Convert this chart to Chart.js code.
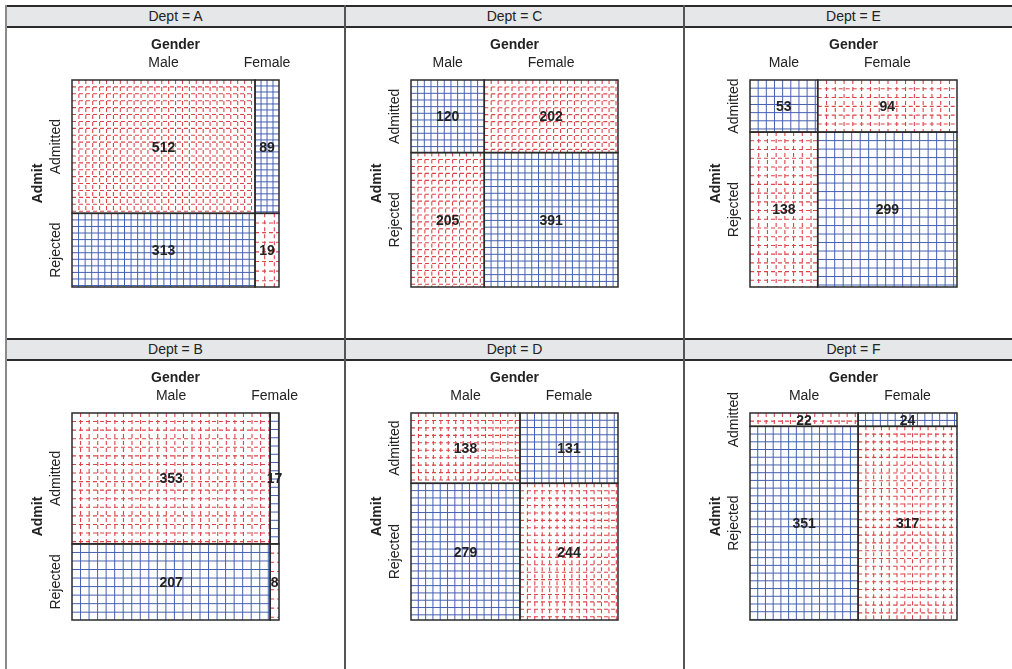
<!DOCTYPE html>
<html><head><meta charset="utf-8">
<script src="https://cdn.jsdelivr.net/npm/chart.js@4.4.0/dist/chart.umd.min.js"></script>
<style>
html,body{margin:0;padding:0;background:#fff;overflow:hidden;width:1012px;height:669px;}
#wrap{position:relative;width:1012px;height:669px;overflow:hidden;font-family:"Liberation Sans",Arial,sans-serif;}
.strip{position:absolute;height:19px;background:#e6e7e9;border-top:2px solid #2b2b2b;border-bottom:2px solid #2b2b2b;text-align:center;font-size:14px;line-height:19px;color:#222;}
.vline{position:absolute;width:2px;background:#555;}
canvas{position:absolute;}
</style></head>
<body><div id="wrap"></div>
<script>
const departments = ["A","B","C","D","E","F"];
const genders = ["Male","Female"];
const admitLevels = ["Admitted","Rejected"];
const maleAdmitted   = [512, 353, 120, 138,  53,  22];
const maleRejected   = [313, 207, 205, 279, 138, 351];
const femaleAdmitted = [ 89,  17, 202, 131,  94,  24];
const femaleRejected = [ 19,   8, 391, 244, 299, 317];

const BLUE = "#4660b0", RED = "#dc4448", INK = "#222";
const FONT = '"Liberation Sans", Arial, sans-serif';

const sievePlugin = {
  id: 'sieve',
  afterDatasetsDraw(chart, args, opts) {
    const ctx = chart.ctx, xs = chart.scales.x, ys = chart.scales.y;
    const obs = opts.table; // obs[row][col]
    const colTot = [obs[0][0] + obs[1][0], obs[0][1] + obs[1][1]];
    const rowTot = [obs[0][0] + obs[0][1], obs[1][0] + obs[1][1]];
    const N = colTot[0] + colTot[1];
    const xE = [0, colTot[0] / N, 1];
    const yE = [0, rowTot[0] / N, 1];
    const cells = [];
    for (let r = 0; r < 2; r++) for (let c = 0; c < 2; c++) {
      const x0 = xs.getPixelForValue(xE[c]), x1 = xs.getPixelForValue(xE[c + 1]);
      const y0 = ys.getPixelForValue(yE[r]), y1 = ys.getPixelForValue(yE[r + 1]);
      const o = obs[r][c];
      const e = rowTot[r] * colTot[c] / N;
      cells.push({x0, x1, y0, y1, o, pos: o > e});
    }
    ctx.save();
    cells.forEach(cl => {
      const w = cl.x1 - cl.x0, h = cl.y1 - cl.y0;
      const side = Math.sqrt(w * h / cl.o);
      ctx.save();
      ctx.beginPath(); ctx.rect(cl.x0, cl.y0, w, h); ctx.clip();
      ctx.strokeStyle = cl.pos ? BLUE : RED;
      ctx.lineWidth = cl.pos ? 1 : 1.1;
      ctx.setLineDash(cl.pos ? [] : [4, 3]);
      for (let k = 1; cl.x0 + k * side < cl.x1 - 0.5; k++) {
        const px = cl.x0 + k * side;
        ctx.beginPath(); ctx.moveTo(px, cl.y0); ctx.lineTo(px, cl.y1); ctx.stroke();
      }
      for (let k = 1; cl.y0 + k * side < cl.y1 - 0.5; k++) {
        const py = cl.y0 + k * side;
        ctx.beginPath(); ctx.moveTo(cl.x0, py); ctx.lineTo(cl.x1, py); ctx.stroke();
      }
      ctx.restore();
    });
    ctx.setLineDash([]);
    ctx.strokeStyle = "#2a2a2a"; ctx.lineWidth = 1.5;
    cells.forEach(cl => ctx.strokeRect(cl.x0, cl.y0, cl.x1 - cl.x0, cl.y1 - cl.y0));
    ctx.fillStyle = INK; ctx.textAlign = 'center'; ctx.textBaseline = 'middle';
    ctx.font = 'bold 14px ' + FONT;
    cells.forEach(cl => ctx.fillText(String(cl.o), (cl.x0 + cl.x1) / 2, (cl.y0 + cl.y1) / 2 + 1));
    const top = ys.getPixelForValue(0), bot = ys.getPixelForValue(1);
    const left = xs.getPixelForValue(0), right = xs.getPixelForValue(1);
    ctx.font = 'bold 14px ' + FONT;
    ctx.fillText(opts.xTitle, (left + right) / 2, top - 35);
    ctx.font = '14px ' + FONT;
    opts.xLabels.forEach((lab, c) => {
      ctx.fillText(lab, (xs.getPixelForValue(xE[c]) + xs.getPixelForValue(xE[c + 1])) / 2, top - 17);
    });
    ctx.save();
    ctx.translate(left - 34, (top + bot) / 2); ctx.rotate(-Math.PI / 2);
    ctx.font = 'bold 14px ' + FONT; ctx.fillText(opts.yTitle, 0, 0);
    ctx.restore();
    ctx.font = '14px ' + FONT;
    opts.yLabels.forEach((lab, r) => {
      ctx.save();
      ctx.translate(left - 16, (ys.getPixelForValue(yE[r]) + ys.getPixelForValue(yE[r + 1])) / 2);
      ctx.rotate(-Math.PI / 2); ctx.fillText(lab, 0, 0);
      ctx.restore();
    });
    ctx.restore();
  }
};

const wrap = document.getElementById('wrap');
const COLW = 339, ROWH = 333;
[5, 344, 683].forEach((x, i) => {
  const v = document.createElement('div'); v.className = 'vline';
  v.style.left = x + 'px'; v.style.top = '5px'; v.style.height = '670px';
  if (i === 0) v.style.background = '#8a8a8a';
  wrap.appendChild(v);
});
departments.forEach((d, i) => {
  const col = Math.floor(i / 2), row = i % 2;
  const left = 7 + col * COLW, top = 5 + row * ROWH;
  const s = document.createElement('div'); s.className = 'strip';
  s.style.left = left + 'px'; s.style.top = top + 'px'; s.style.width = '337px';
  s.textContent = 'Dept = ' + d;
  wrap.appendChild(s);
  const cv = document.createElement('canvas');
  cv.style.left = left + 'px'; cv.style.top = (top + 23) + 'px';
  cv.style.width = '337px'; cv.style.height = '310px';
  cv.width = 337; cv.height = 310;
  wrap.appendChild(cv);
  new Chart(cv, {
    type: 'scatter',
    data: { datasets: [] },
    options: {
      responsive: false, animation: false, events: [],
      layout: { padding: { left: 65, right: 65, top: 52, bottom: 51 } },
      scales: {
        x: { type: 'linear', min: 0, max: 1, display: false },
        y: { type: 'linear', min: 0, max: 1, reverse: true, display: false }
      },
      plugins: {
        legend: { display: false }, tooltip: { enabled: false },
        sieve: {
          table: [[maleAdmitted[i], femaleAdmitted[i]], [maleRejected[i], femaleRejected[i]]],
          xTitle: 'Gender', yTitle: 'Admit', xLabels: genders, yLabels: admitLevels
        }
      }
    },
    plugins: [sievePlugin]
  });
});
</script>
</body></html>
